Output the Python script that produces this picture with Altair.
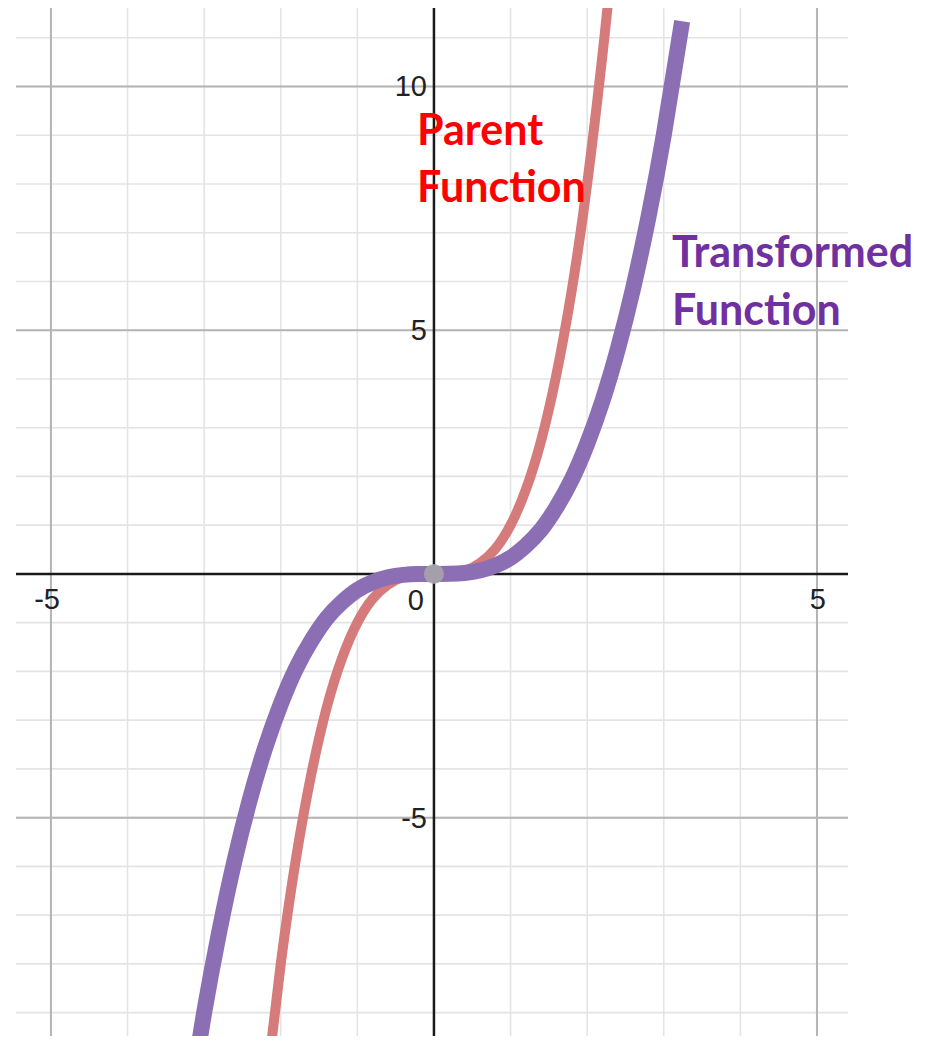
import altair as alt
import pandas as pd

# ---- data ----
parent_x = [-2.2, -2.0, -1.8, -1.6, -1.4, -1.2, -1.0, -0.8, -0.6, -0.4, -0.2, 0.0,
            0.2, 0.4, 0.6, 0.8, 1.0, 1.2, 1.4, 1.6, 1.8, 2.0, 2.2, 2.3]
parent_y = [-10.65, -8.0, -5.83, -4.10, -2.74, -1.73, -1.0, -0.51, -0.22, -0.06, -0.01, 0.0,
            0.01, 0.06, 0.22, 0.51, 1.0, 1.73, 2.74, 4.10, 5.83, 8.0, 10.65, 12.17]

trans_x = [-3.2, -3.0, -2.8, -2.6, -2.4, -2.2, -2.0, -1.8, -1.6, -1.4, -1.2, -1.0,
           -0.8, -0.6, -0.4, -0.2, 0.0, 0.2, 0.4, 0.6, 0.8, 1.0, 1.2, 1.4, 1.6,
           1.8, 2.0, 2.2, 2.4, 2.6, 2.8, 3.0, 3.24]
trans_y = [-10.92, -9.0, -7.32, -5.86, -4.61, -3.55, -2.67, -1.94, -1.37, -0.91, -0.58, -0.33,
           -0.17, -0.07, -0.02, -0.003, 0.0, 0.003, 0.02, 0.07, 0.17, 0.33, 0.58, 0.91, 1.37,
           1.94, 2.67, 3.55, 4.61, 5.86, 7.32, 9.0, 11.34]

minor_x = [-5, -4, -3, -2, -1, 1, 2, 3, 4, 5]
minor_y = [-9, -8, -7, -6, -5, -4, -3, -2, -1, 1, 2, 3, 4, 5, 6, 7, 8, 9, 10, 11]
major_x = [-5, 5]
major_y = [-5, 5, 10]

xlabel_vals = [-5, 5]
xlabel_text = ["-5", "5"]
ylabel_vals = [10, 5, -5]
ylabel_text = ["10", "5", "-5"]

annot_text = ["Parent", "Function", "Transformed", "Function"]
annot_x = [-0.22, -0.22, 3.107, 3.107]
annot_y = [8.80, 7.63, 6.30, 5.11]
annot_group = ["parent", "parent", "trans", "trans"]

# ---- scales ----
X_DOM = [-5.456, 5.405]
Y_DOM = [-9.48, 11.61]
xs = alt.Scale(domain=X_DOM, nice=False, zero=False)
ys = alt.Scale(domain=Y_DOM, nice=False, zero=False)

def X(field="x"):
    return alt.X(f"{field}:Q", scale=xs, axis=None)

def Y(field="y"):
    return alt.Y(f"{field}:Q", scale=ys, axis=None)

minor_v = alt.Chart(pd.DataFrame({"x": minor_x})).mark_rule(
    color="#e4e4e4", strokeWidth=1.6).encode(x=X())
minor_h = alt.Chart(pd.DataFrame({"y": minor_y})).mark_rule(
    color="#e4e4e4", strokeWidth=1.6).encode(y=Y())
major_v = alt.Chart(pd.DataFrame({"x": major_x})).mark_rule(
    color="#b4b4b4", strokeWidth=2).encode(x=X())
major_h = alt.Chart(pd.DataFrame({"y": major_y})).mark_rule(
    color="#b4b4b4", strokeWidth=2).encode(y=Y())
axis_v = alt.Chart(pd.DataFrame({"x": [0]})).mark_rule(
    color="#1a1a1a", strokeWidth=2.5).encode(x=X())
axis_h = alt.Chart(pd.DataFrame({"y": [0]})).mark_rule(
    color="#1a1a1a", strokeWidth=2.5).encode(y=Y())

parent = alt.Chart(pd.DataFrame({"x": parent_x, "y": parent_y})).mark_line(
    color="#d67b7b", strokeWidth=10, interpolate="natural", clip=True,
    strokeCap="butt").encode(x=X(), y=Y(), order="x:Q")
trans = alt.Chart(pd.DataFrame({"x": trans_x, "y": trans_y})).mark_line(
    color="#8b6eb4", strokeWidth=16, interpolate="natural", clip=True,
    strokeCap="butt").encode(x=X(), y=Y(), order="x:Q")

dot = alt.Chart(pd.DataFrame({"x": [0], "y": [0]})).mark_circle(
    size=400, color="#a8a8a8", opacity=0.85).encode(x=X(), y=Y())

lab_font = "Liberation Sans"
xlabels = alt.Chart(pd.DataFrame({"x": xlabel_vals, "t": xlabel_text, "y": [0, 0]})).mark_text(
    font=lab_font, fontSize=29, color="#222222", align="right", baseline="top",
    dx=9, dy=12).encode(x=X(), y=Y(), text="t:N")
zero_label = alt.Chart(pd.DataFrame({"x": [0], "y": [0], "t": ["0"]})).mark_text(
    font=lab_font, fontSize=29, color="#222222", align="right", baseline="top",
    dx=-10, dy=13).encode(x=X(), y=Y(), text="t:N")
ylabels = alt.Chart(pd.DataFrame({"y": ylabel_vals, "t": ylabel_text, "x": [0, 0, 0]})).mark_text(
    font=lab_font, fontSize=29, color="#222222", align="right", baseline="middle",
    dx=-7, dy=1).encode(x=X(), y=Y(), text="t:N")

annot = alt.Chart(pd.DataFrame({"x": annot_x, "y": annot_y, "t": annot_text,
                                "g": annot_group})).mark_text(
    font="Lato", fontWeight="bold", fontSize=43, align="left", baseline="alphabetic"
).encode(
    x=X(), y=Y(), text="t:N",
    color=alt.Color("g:N", scale=alt.Scale(domain=["parent", "trans"],
                                           range=["#ff0000", "#7030a0"]), legend=None),
)

chart = alt.layer(
    minor_v, minor_h, major_v, major_h, axis_v, axis_h,
    parent, trans, dot, xlabels, zero_label, ylabels, annot
).properties(
    width=832, height=1028,
    padding={"left": 8, "top": 0, "right": 72, "bottom": 0},
    autosize=alt.AutoSizeParams(type="none"),
    background="white",
).configure_view(stroke=None)

chart.save("out.html", embed_options={"renderer": "svg", "actions": False})
